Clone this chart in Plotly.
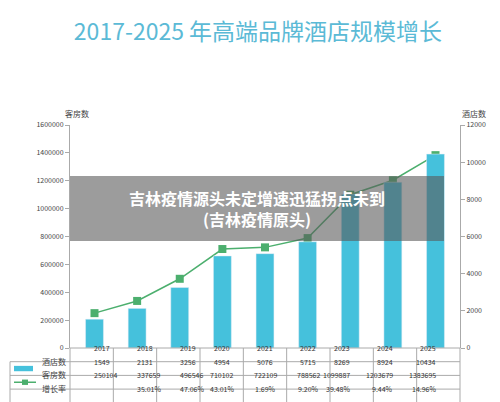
import plotly.graph_objects as go

years = ["2017", "2018", "2019", "2020", "2021", "2022", "2023", "2024", "2025"]
hotels = [1549, 2131, 3256, 4954, 5076, 5715, 8269, 8924, 10434]
rooms = [250104, 337659, 496546, 710102, 722109, 788562, 1099887, 1203679, 1383695]
growth = ["", "35.01%", "47.06%", "43.01%", "1.69%", "9.20%", "39.48%", "9.44%", "14.96%"]

FONT = "Noto Sans CJK SC"
BLUE = "#45c1dc"
GREEN = "#4caf6e"
GRID = "#aaaaaa"

fig = go.Figure()
fig.add_trace(go.Bar(x=years, y=hotels, yaxis="y2", marker_color=BLUE, name="酒店数"))
fig.add_trace(go.Scatter(x=years, y=rooms, mode="lines+markers", name="客房数",
                         line=dict(color=GREEN, width=1.5),
                         marker=dict(symbol="square", size=8, color=GREEN)))

L, R, T, B = 62, 48, 117, 62
W, H = 500, 402
ph = H - T - B
row_h = 13.7


def py(px):
    # pixel y -> paper y
    return (H - B - px) / ph


def pxx(px):
    return (px - L) / (W - L - R)


shapes = []
annotations = []
# table grid
rows_top = 340
row_lines = [rows_top + row_h * i for i in range(5)]
for i, yy in enumerate(row_lines):
    x0 = 2 if i >= 1 else L
    shapes.append(dict(type="line", xref="paper", yref="paper", x0=pxx(x0), x1=1,
                       y0=py(yy), y1=py(yy), line=dict(color=GRID, width=1)))
n = len(years)
for k in range(n + 1):
    xk = pxx(L) + k / n
    shapes.append(dict(type="line", xref="paper", yref="paper", x0=xk, x1=xk,
                       y0=py(rows_top), y1=py(row_lines[-1]), line=dict(color=GRID, width=1)))
shapes.append(dict(type="line", xref="paper", yref="paper", x0=pxx(2), x1=pxx(2),
                   y0=py(row_lines[1]), y1=py(row_lines[-1]), line=dict(color=GRID, width=1)))

rows = [years, [str(v) for v in hotels], [str(v) for v in rooms], growth]
for r, vals in enumerate(rows):
    yc = py(rows_top + row_h * (r + 0.5))
    for k, v in enumerate(vals):
        annotations.append(dict(x=(k + 0.5) / n, xref="paper", y=yc, yref="paper",
                                text=v, showarrow=False, font=dict(size=7, color="#333", family=FONT)))
labels = ["酒店数", "客房数", "增长率"]
for r, lab in enumerate(labels):
    yc = py(rows_top + row_h * (r + 1.5))
    annotations.append(dict(x=pxx(60), xref="paper", y=yc, yref="paper", xanchor="right",
                            text=lab, showarrow=False, font=dict(size=8, color="#444", family=FONT)))
# legend keys
yk = py(rows_top + row_h * 1.5)
shapes.append(dict(type="rect", xref="paper", yref="paper", x0=pxx(6), x1=pxx(25),
                   y0=yk - 0.012, y1=yk + 0.012, fillcolor=BLUE, line_width=0))
yk = py(rows_top + row_h * 2.5)
shapes.append(dict(type="line", xref="paper", yref="paper", x0=pxx(6), x1=pxx(28),
                   y0=yk, y1=yk, line=dict(color=GREEN, width=1.5)))
shapes.append(dict(type="rect", xref="paper", yref="paper", x0=pxx(14), x1=pxx(20),
                   y0=yk - 0.012, y1=yk + 0.012, fillcolor=GREEN, line_width=0))

# overlay band
shapes.append(dict(type="rect", xref="paper", yref="paper", x0=pxx(62), x1=pxx(436),
                   y0=py(233), y1=py(168), fillcolor="rgba(90,90,90,0.6)", line_width=0, layer="above"))
annotations.append(dict(x=pxx(249), xref="paper", y=py(200), yref="paper",
                        text="<b>吉林疫情源头未定增速迅猛拐点未到<br>(吉林疫情原头)</b>", showarrow=False,
                        font=dict(size=16, color="white", family=FONT)))

annotations.append(dict(x=pxx(55), xref="paper", y=py(98), yref="paper", text="客房数",
                        showarrow=False, font=dict(size=8, color="#444", family=FONT)))
annotations.append(dict(x=pxx(480), xref="paper", y=py(98), yref="paper", text="酒店数",
                        showarrow=False, font=dict(size=8, color="#444", family=FONT)))

fig.update_layout(
    width=W, height=H, margin=dict(l=L, r=R, t=T, b=B),
    paper_bgcolor="white", plot_bgcolor="white", showlegend=False, bargap=0.58,
    title=dict(text="2017-2025 年高端品牌酒店规模增长", x=0.5, xanchor="center", y=0.96,
               font=dict(size=23, color="#5bbad6", family=FONT)),
    font=dict(family=FONT, size=7, color="#444"),
    xaxis=dict(showticklabels=False, showline=False, showgrid=False),
    yaxis=dict(range=[0, 1600000], dtick=200000, tickformat="d", showgrid=False, showline=True,
               linecolor=GRID, ticks="outside", ticklen=4, tickcolor=GRID, zeroline=False),
    yaxis2=dict(range=[0, 12000], dtick=2000, tickformat="d", overlaying="y", side="right", showgrid=False,
                showline=True, linecolor=GRID, ticks="outside", ticklen=4, tickcolor=GRID),
    shapes=shapes, annotations=annotations,
)
fig.write_html("out.html")
